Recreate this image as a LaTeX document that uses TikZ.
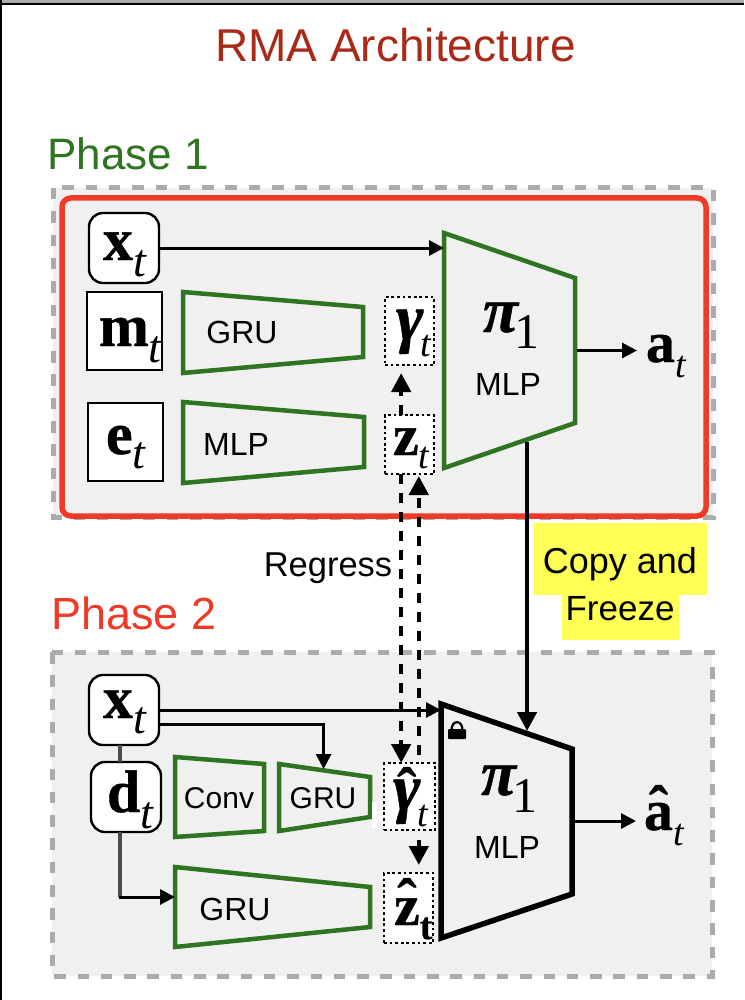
\documentclass[tikz,border=0pt]{standalone}
\usepackage{fontspec}
\setmainfont{Liberation Sans}
\newfontfamily\mathser[BoldFeatures={FakeBold=0.7},BoldItalicFeatures={FakeBold=0.7}]{Liberation Serif}
\usetikzlibrary{arrows.meta,calc,positioning}
\definecolor{dgreen}{HTML}{2F7420}
\definecolor{dred}{HTML}{EE3A26}
\definecolor{tred}{HTML}{A92A18}
\definecolor{dgray}{HTML}{ABABAB}
\definecolor{panel}{HTML}{F0F0F0}
\definecolor{hl}{HTML}{FFFF55}
\newcommand{\fsz}[1]{\fontsize{#1}{#1}\selectfont}
\newcommand{\bsym}[2]{{\mathser\bfseries\fsz{#1}#2}}
\newcommand{\bgr}[2]{{\mathser\bfseries\itshape\fsz{#1}#2}}
\newcommand{\tsub}[2]{\raisebox{#1}{\mathser\itshape\fsz{#2}t}}
\newcommand{\hatted}[3]{\leavevmode\setbox0\hbox{#3}\hbox to\wd0{\hss\raisebox{#1}{\mathser\bfseries\fsz{#2}\symbol{"02C6}}\hss}\kern-\wd0\box0}
% trapezoid: name, x1, y1 top, x2, y2 top, y2 bottom, y1 bottom, style
\newcommand{\trap}[8]{%
  \draw[#8] (#2,#3) -- (#4,#5) -- (#4,#6) -- (#2,#7) -- cycle;
  \node[inner sep=0pt,outer sep=0pt,minimum width=#4pt-#2pt,minimum height=#7pt-#3pt] (#1) at ({(#2+#4)/2},{(#3+#7)/2}) {};
}
\tikzset{
  x=1pt,y=-1pt,
  panelbox/.style={fill=panel,draw=dgray,line width=5pt,dash pattern=on 11.5pt off 11.8pt},
  redbox/.style={draw=dred,line width=5.5pt,rounded corners=9pt},
  rbox/.style={draw=black,fill=white,line width=2.4pt,rounded corners=14pt,inner sep=0pt,outer sep=0pt},
  sbox/.style={draw=black,fill=white,line width=2.4pt,inner sep=0pt,outer sep=0pt},
  dbox/.style={draw=black,fill=white,line width=2.8pt,dash pattern=on 2.8pt off 2.8pt,inner sep=0pt,outer sep=0pt},
  gtrap/.style={draw=dgreen,line width=4.5pt,line join=miter},
  ktrap/.style={draw=black,line width=5.5pt,line join=miter},
  lbl/.style={anchor=base,inner sep=0pt,outer sep=0pt,text=black},
  sym/.style={anchor=base west,inner sep=0pt,outer sep=0pt,text=black},
  arr/.style={draw=black,line width=3pt,-{Triangle[length=15pt,width=15pt]}},
  thick arr/.style={draw=black,line width=4.5pt,-{Triangle[length=19pt,width=19pt]}},
  dash arr/.style={draw=black,line width=4.5pt,dash pattern=on 10pt off 9pt,-{Triangle[length=19pt,width=19pt]}},
  gray arr/.style={draw=black!70,line width=3.5pt},
}
\begin{document}
\begin{tikzpicture}
\useasboundingbox (0,0) rectangle (744,1000);
\fill[white] (0,0) rectangle (744,1000);
\fill[dgray] (0,0) rectangle (744,3);
\fill[black] (0,3) rectangle (744,5.5);
\fill[black] (0,0) rectangle (2,1000);

\node[anchor=base,inner sep=0pt,text=tred] (title) at (395.5,62) {\fsz{46}RMA Architecture};
\node[anchor=base west,inner sep=0pt,text=dgreen] (ph1) at (47,170) {\fsz{44}Phase 1};
\node[anchor=base west,inner sep=0pt,text=dred] (ph2) at (51,629) {\fsz{45}Phase 2};

% panels
\draw[panelbox] (53,188) rectangle (713,517);
\draw[panelbox] (52,652) rectangle (712,976);
\draw[redbox] (62,198) rectangle (706,516);

% phase 1
\node[rbox,minimum width=70pt,minimum height=70pt] (x1) at (124,248) {};
\node[sbox,minimum width=75pt,minimum height=78pt] (m1) at (124.5,331) {};
\node[sbox,minimum width=75pt,minimum height=78pt] (e1) at (125.5,442) {};
\trap{grua}{183}{292}{363}{307}{357}{373}{gtrap}
\trap{mlpa}{183}{402}{364}{417}{467}{483}{gtrap}
\node[dbox,minimum width=49pt,minimum height=68pt] (g1) at (409.5,331) {};
\node[dbox,minimum width=49pt,minimum height=59pt] (z1) at (409.5,444.5) {};
\trap{pia}{444}{233}{575}{278}{423}{468}{gtrap}

% phase 2
\node[rbox,minimum width=70pt,minimum height=70pt] (x2) at (124,710) {};
\node[rbox,minimum width=70pt,minimum height=70pt] (d2) at (126,797) {};
\trap{conv}{175}{757}{264}{764}{831}{837}{gtrap}
\trap{grub}{279}{764}{370}{777}{817}{831}{gtrap}
\trap{gruc}{175}{867}{370}{887}{927}{947}{gtrap}
\fill[white] (372,802) rectangle (377,828);
\fill[white] (377,816) -- (384,806) -- (384,826) -- (377,819) -- cycle;
\node[dbox,minimum width=51pt,minimum height=67pt] (gh) at (409.5,796.5) {};
\node[dbox,minimum width=49pt,minimum height=70pt] (zh) at (408.5,908) {};
\trap{pib}{441}{704}{572}{749}{894}{938}{ktrap}

% lock
\fill[black,rounded corners=1pt] (448,729) rectangle (466,739);
\draw[black,line width=2.2pt] (451.5,730) .. controls (451.5,719.5) and (462.5,719.5) .. (462.5,730);

% yellow
\fill[hl] (534,523) rectangle (707,595);
\fill[hl] (562,595) rectangle (679,640);

% connectors phase 1
\coordinate (zL) at ($(z1.south west)!.33!(z1.south east)$);
\coordinate (zR) at ($(z1.south west)!.69!(z1.south east)$);
\coordinate (copyA) at ($(pia.south west)!.634!(pia.south east)$);
\draw[arr] (x1.east) -- (x1.east -| pia.west);
\draw[arr] ($(pia.east)+(2,0)$) -- +(60,0);
\draw[thick arr] (copyA |- 0,442) -- (copyA |- pib.north) -- +(0,27);

% regress dashed
\draw[dash arr,shorten >=8pt] (zL |- z1.north) -- (zL |- g1.south);
\draw[dash arr] (zL) -- (zL |- gh.north);
\draw[dash arr] (zR |- 0,755) -- (zR |- 0,476);
\draw[arr,line width=4.5pt,-{Triangle[length=19pt,width=19pt]},shorten <=10pt,shorten >=8pt] (zR |- gh.south) -- (zR |- zh.north);

% connectors phase 2
\draw[arr] (x2.east) -- (x2.east -| pib.west);
\draw[arr] ($(x2.east)+(0,14)$) -| ($(grub.north west)!.49!(grub.north east)+(0,5)$);
\draw[gray arr] (x2.south -| 120,0) -- (d2.north -| 120,0);
\draw[gray arr] (d2.south -| 120,0) -- (120,897);
\draw[arr] (119,897) -- (gruc.west |- 0,897);
\draw[arr] (pib.east) -- +(64,0);

% labels
\node[lbl] (lgrua) at (242,343) {\fsz{32}GRU};
\node[lbl] (lmlpa) at (236,455) {\fsz{32}MLP};
\node[lbl] (lconv) at (219,808) {\fsz{30}Conv};
\node[lbl] (lgrub) at (323,808) {\fsz{30}GRU};
\node[lbl] (lgruc) at (235,920) {\fsz{32}GRU};
\node[lbl] (lmlp1) at (508,395) {\fsz{32}MLP};
\node[lbl] (lmlp2) at (507,858) {\fsz{32}MLP};
\node[lbl] (reg) at (328,576) {\fsz{34.5}Regress};
\node[lbl] (cp1) at (620,573) {\fsz{36}Copy and};
\node[lbl] (cp2) at (620,620) {\fsz{35}Freeze};

\node[sym] (sx1) at (103,260) {\bsym{60}{x}\tsub{-17pt}{46}};
\node[sym] (sm1) at (99,346) {\bsym{60}{m}\tsub{-16pt}{46}};
\node[sym] (se1) at (106,454) {\bsym{60}{e}\tsub{-14pt}{46}};
\node[sym] (sg1) at (396,340) {\bgr{66}{γ}\kern-3pt\tsub{-16pt}{38}};
\node[sym] (sz1) at (393,455) {\bsym{58}{z}\tsub{-13pt}{38}};
\node[sym] (spa) at (483,332) {\bgr{64}{π}\kern-3pt\raisebox{-16pt}{\mathser\fsz{50}1}};
\node[sym] (saa) at (646,362) {\bsym{58}{a}\tsub{-15pt}{38}};
\node[sym] (sx2) at (103,718) {\bsym{60}{x}\tsub{-15pt}{46}};
\node[sym] (sd2) at (107,812) {\bsym{60}{d}\tsub{-16pt}{46}};
\node[sym] (sgh) at (393,810) {\hatted{2pt}{58}{\bgr{66}{γ}}\kern-3pt\tsub{-16pt}{38}};
\node[sym] (szh) at (394,925) {\hatted{6pt}{58}{\bsym{58}{z}}\raisebox{-14pt}{\bsym{38}{t}}};
\node[sym] (spb) at (481,795) {\bgr{64}{π}\kern-3pt\raisebox{-17pt}{\mathser\fsz{50}1}};
\node[sym] (sab) at (644,830) {\hatted{4pt}{58}{\bsym{58}{a}}\tsub{-15pt}{38}};
\end{tikzpicture}
\end{document}
